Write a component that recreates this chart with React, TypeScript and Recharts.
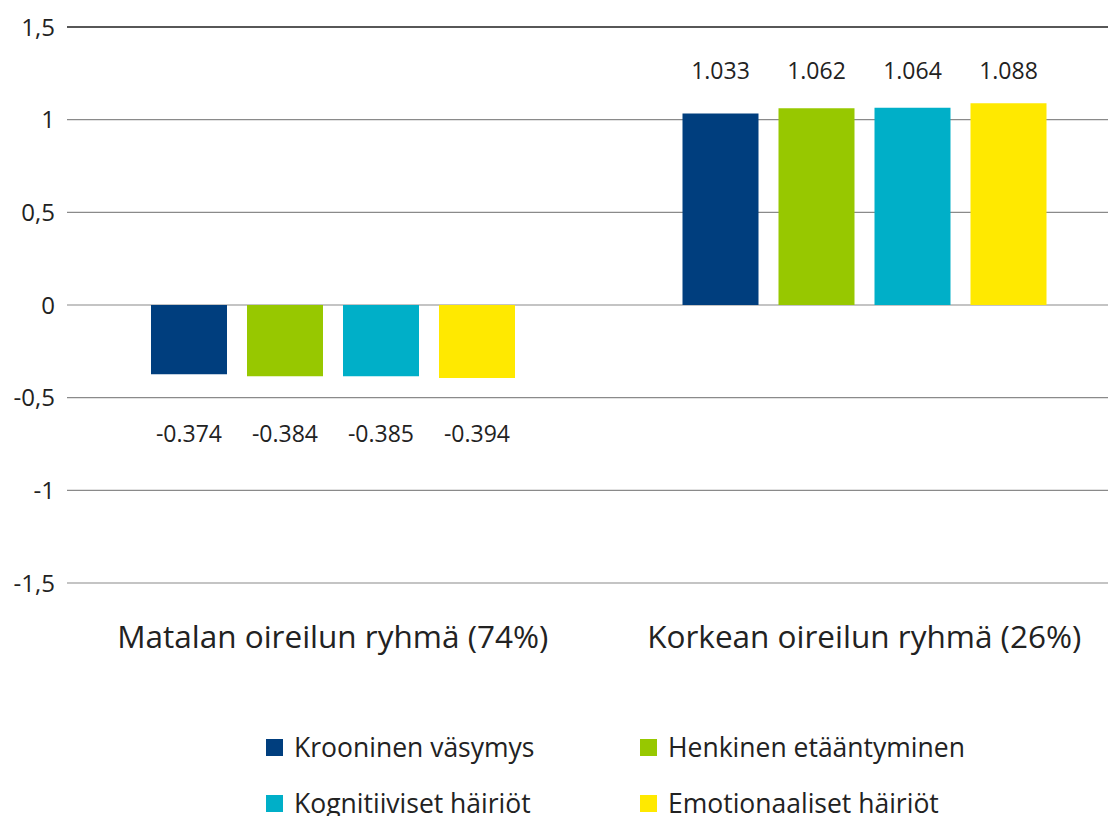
import React from 'react';
import { BarChart, Bar, XAxis, YAxis, CartesianGrid, Legend, ReferenceLine, LabelList } from 'recharts';

const categories = ['Matalan oireilun ryhmä (74%)', 'Korkean oireilun ryhmä (26%)'];
const krooninen = [-0.374, 1.033];
const henkinen = [-0.384, 1.062];
const kognitiiviset = [-0.385, 1.064];
const emotionaaliset = [-0.394, 1.088];
const yTicks = [-1.5, -1, -0.5, 0, 0.5, 1, 1.5];

const series = [
  { key: 'krooninen', name: 'Krooninen väsymys', color: '#003E7E' },
  { key: 'henkinen', name: 'Henkinen etääntyminen', color: '#97C800' },
  { key: 'kognitiiviset', name: 'Kognitiiviset häiriöt', color: '#00AFC8' },
  { key: 'emotionaaliset', name: 'Emotionaaliset häiriöt', color: '#FFE900' },
];

const data = categories.map((name, i) => ({
  name,
  krooninen: krooninen[i],
  henkinen: henkinen[i],
  kognitiiviset: kognitiiviset[i],
  emotionaaliset: emotionaaliset[i],
}));

const FONT = '"Open Sans", "Noto Sans", sans-serif';

// labels sit on one row above / below the groups, like in the original
const ValueLabel = (props: any) => {
  const { x, width, value } = props;
  const y = value >= 0 ? 70 : 433;
  return (
    <text
      x={x + width / 2}
      y={y}
      textAnchor="middle"
      dominantBaseline="central"
      fontSize={23}
      fill="#222"
      fontFamily={FONT}
    >
      {value.toFixed(3)}
    </text>
  );
};

const LegendContent = () => (
  <div
    style={{
      display: 'grid',
      gridTemplateColumns: '374px 360px',
      marginLeft: 266,
      height: 112,
      fontFamily: FONT,
      fontSize: 26.5,
      color: '#222',
    }}
  >
    {series.map((s) => (
      <div key={s.key} style={{ display: 'flex', alignItems: 'center', height: 56 }}>
        <span style={{ width: 17, height: 17, background: s.color, marginRight: 11, display: 'inline-block' }} />
        <span>{s.name}</span>
      </div>
    ))}
  </div>
);

const App: React.FC = () => {
  return (
    <div style={{ width: 1116, height: 816, overflow: 'hidden', margin: '-8px 0 0 -8px', position: 'relative' }}>
      <BarChart
        width={1130}
        height={831}
        data={data}
        margin={{ top: 27, right: 0, left: 0, bottom: 0 }}
        barSize={76}
        barGap={20}
      >
        <CartesianGrid horizontal vertical={false} stroke="#8a8a8a" strokeWidth={1.2} />
        <ReferenceLine y={1.5} stroke="#333" strokeWidth={1.5} />
        <XAxis
          dataKey="name"
          axisLine={false}
          tickLine={false}
          height={136}
          tickMargin={37}
          tick={{ fill: '#222', fontSize: 31.5, fontFamily: FONT }}
        />
        <YAxis
          domain={[-1.5, 1.5]}
          ticks={yTicks}
          width={67}
          axisLine={false}
          tickLine={false}
          tickMargin={6}
          tickFormatter={(v) => String(v).replace('.', ',')}
          tick={{ fill: '#222', fontSize: 24, fontFamily: FONT }}
        />
        <Legend verticalAlign="bottom" content={<LegendContent />} />
        {series.map((s) => (
          <Bar key={s.key} dataKey={s.key} name={s.name} fill={s.color} isAnimationActive={false}>
            <LabelList dataKey={s.key} content={<ValueLabel />} />
          </Bar>
        ))}
      </BarChart>
    </div>
  );
};

export default App;
